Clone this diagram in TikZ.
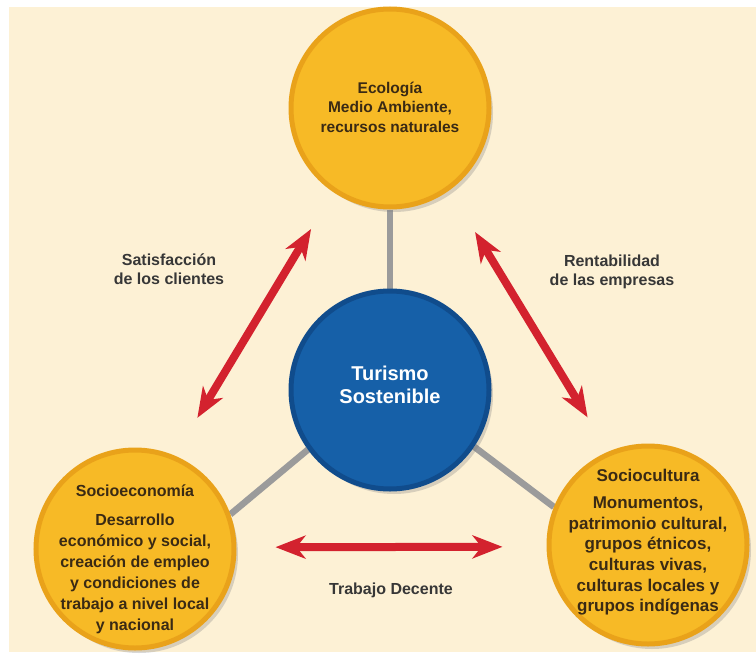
\documentclass[tikz,border=0pt]{standalone}
\usepackage{fontspec}
\setmainfont{Liberation Sans}
\usepackage{xcolor}
\usepackage{tikz}
\usetikzlibrary{arrows.meta, shadows}
\definecolor{papercolor}{RGB}{253, 241, 213}
\definecolor{goldcolor}{RGB}{247, 186, 38}
\definecolor{goldrim}{RGB}{233, 162, 26}
\definecolor{bluecolor}{RGB}{22, 96, 168}
\definecolor{bluerim}{RGB}{16, 76, 140}
\definecolor{arrowred}{RGB}{211, 34, 46}
\definecolor{linkgrey}{RGB}{155, 155, 155}
\definecolor{inkcolor}{RGB}{58, 42, 20}
\definecolor{labelcolor}{RGB}{55, 55, 55}
\pgfdeclarelayer{paper}
\pgfdeclarelayer{wires}
\pgfsetlayers{paper,wires,main}

\begin{document}
\begin{tikzpicture}[
    x=1bp, y=-1bp,
    sphere/.style={circle, minimum size=198bp, inner sep=0pt, fill=#1color, draw=#1rim, line width=5bp, drop shadow={shadow xshift=4bp, shadow yshift=-5bp, opacity=0.3}},
    link/.style={draw=linkgrey, line width=6.5bp},
    twoway/.style={draw=arrowred, line width=8bp, {Stealth[length=30bp, width=23bp, inset=9bp]}-{Stealth[length=30bp, width=23bp, inset=9bp]}},
    heading/.style={font=\bfseries\fontsize{16bp}{21bp}\selectfont, text=inkcolor, align=center},
    caption/.style={font=\bfseries\fontsize{16bp}{19.5bp}\selectfont, text=labelcolor, align=center}
]
    \useasboundingbox (0,0) rectangle (756,661);
    \begin{pgfonlayer}{paper}
        \fill[white] (0,0) rectangle (756,661);
        \fill[papercolor] (9,7) rectangle (756,652);
    \end{pgfonlayer}

    % Circles
    \node[sphere=gold] (eco) at (390, 108) {};
    \node[heading, font=\bfseries\fontsize{15.5bp}{19.5bp}\selectfont] (ecotext) at (390, 107) {Ecología\\Medio Ambiente,\\recursos naturales};

    \node[sphere=blue] (tur) at (390, 390) {};
    \node[heading, text=white, font=\bfseries\fontsize{20bp}{23bp}\selectfont] (turtext) at (390, 385) {Turismo\\Sostenible};

    \node[sphere=gold] (soceco) at (135, 549) {};
    \node[heading] (socecotext) at (135, 559) {Socioeconomía\\[8bp]Desarrollo\\económico y social,\\creación de empleo\\y condiciones de\\trabajo a nivel local\\y nacional};

    \node[sphere=gold] (soccul) at (648, 545) {};
    \node[heading, font=\bfseries\fontsize{17bp}{20.6bp}\selectfont] (soccultext) at (648, 542) {Sociocultura\\[7bp]Monumentos,\\patrimonio cultural,\\grupos étnicos,\\culturas vivas,\\culturas locales y\\grupos indígenas};

    % Links
    \begin{pgfonlayer}{wires}
        \draw[link] (eco) -- (tur);
        \draw[link] (tur.216) -- (soceco.20);
        \draw[link] (tur.326) -- (soccul.158);
    \end{pgfonlayer}

    % Arrows
    \draw[twoway, shorten <=44bp, shorten >=43bp] (soceco.67) -- (eco.236);
    \draw[twoway, shorten <=49bp, shorten >=40bp] (eco.-54) -- (soccul.113);
    \draw[twoway, shorten <=39bp, shorten >=44bp] (soceco.1) -- (soccul.181);

    % Labels
    \node[caption] (satis) at (169, 269) {Satisfacción\\de los clientes};
    \node[caption] (renta) at (612, 272) {Rentabilidad\\de las empresas};
    \node[caption] (trabajo) at (391, 590) {Trabajo Decente};
\end{tikzpicture}
\end{document}
